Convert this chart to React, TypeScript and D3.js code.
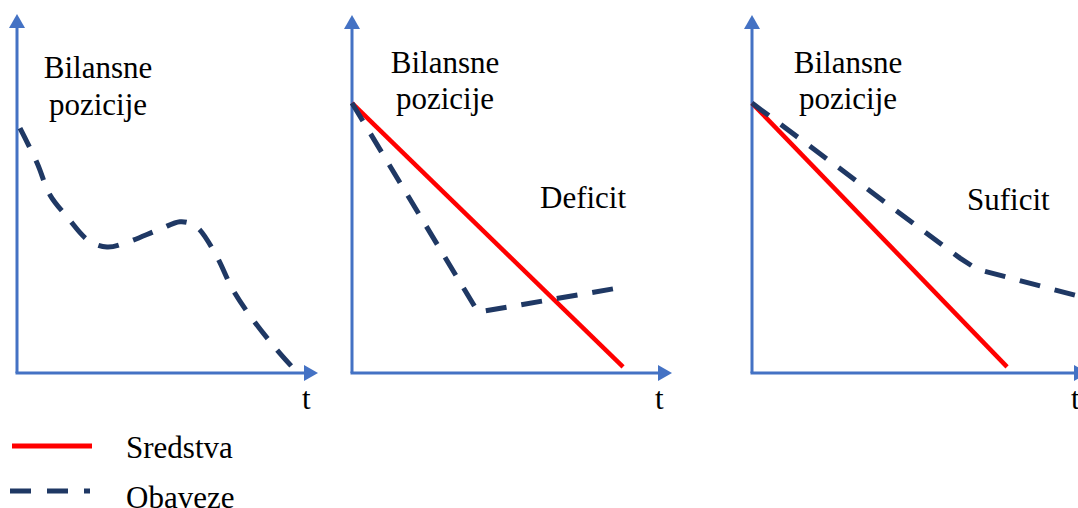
import React from "react";
import * as d3 from "d3";

// ---- data (x: time units 0..100, y: value units 0..100) ----
const panel1ObavezeX = [1, 6.7, 11, 16.7, 23.7, 30, 36, 47.7, 54.3, 58.3, 61, 66.7, 72, 78.7, 86.7, 91.7];
const panel1ObavezeY = [68.2, 58.5, 49.6, 43.5, 37, 35.1, 36.2, 40.1, 42.1, 41.5, 39.8, 32.3, 23.1, 14.8, 6.4, 1.7];

const panel2SredstvaX = [0, 84.7];
const panel2SredstvaY = [75.4, 1.7];
const panel2ObavezeX = [0, 39.4, 81.6];
const panel2ObavezeY = [75.4, 17, 23.5];

const panel3SredstvaX = [0, 79.7];
const panel3SredstvaY = [75.4, 1.7];
const panel3ObavezeX = [0, 65, 70.3, 104];
const panel3ObavezeY = [75.4, 32.1, 29, 21];

const yLabelLines = ["Bilansne", "pozicije"];
const xLabel = "t";
const panelNotes = ["", "Deficit", "Suficit"];
const legendLabels = ["Sredstva", "Obaveze"];

const zip = (xs: number[], ys: number[]) => xs.map((x, i) => [x, ys[i]] as [number, number]);

const AXIS = "#4472c4";
const RED = "#ff0000";
const NAVY = "#1f3864";
const FONT = "Liberation Serif, Tinos, DejaVu Serif, serif";

type Panel = {
  ox: number;
  oy: number;
  top: number;
  xEnd: number;
  xMax: number;
  labelCx: number;
  labelY1: number;
  labelY2: number;
  tX: number;
  note: string;
  noteX: number;
  noteY: number;
  sredstva?: [number, number][];
  obaveze: [number, number][];
  curve: any;
};

const panels: Panel[] = [
  {
    ox: 17, oy: 373, top: 14, xEnd: 318, xMax: 317,
    labelCx: 98, labelY1: 78, labelY2: 115, tX: 302,
    note: panelNotes[0], noteX: 0, noteY: 0,
    obaveze: zip(panel1ObavezeX, panel1ObavezeY),
    curve: d3.curveCatmullRom.alpha(0.5),
  },
  {
    ox: 352, oy: 373, top: 15, xEnd: 672, xMax: 672,
    labelCx: 445, labelY1: 73, labelY2: 109, tX: 655,
    note: panelNotes[1], noteX: 540, noteY: 208,
    sredstva: zip(panel2SredstvaX, panel2SredstvaY),
    obaveze: zip(panel2ObavezeX, panel2ObavezeY),
    curve: d3.curveLinear,
  },
  {
    ox: 752, oy: 373, top: 15, xEnd: 1088, xMax: 1072,
    labelCx: 848, labelY1: 73, labelY2: 109, tX: 1071,
    note: panelNotes[2], noteX: 967, noteY: 210,
    sredstva: zip(panel3SredstvaX, panel3SredstvaY),
    obaveze: zip(panel3ObavezeX, panel3ObavezeY),
    curve: d3.curveLinear,
  },
];

const textStyle: React.CSSProperties = { fontFamily: FONT, fontSize: 31 };

function PanelView({ p }: { p: Panel }) {
  const x = d3.scaleLinear().domain([0, 100]).range([p.ox, p.xMax]);
  const y = d3.scaleLinear().domain([0, 100]).range([p.oy, p.top]);
  const line = d3
    .line<[number, number]>()
    .x((d) => x(d[0]))
    .y((d) => y(d[1]))
    .curve(p.curve);
  const ah = 14;
  const aw = 8;
  return (
    <g>
      <line x1={p.ox} y1={p.oy} x2={p.ox} y2={p.top + ah - 1} stroke={AXIS} strokeWidth={3} />
      <path d={`M${p.ox},${p.top} L${p.ox - aw},${p.top + ah} L${p.ox + aw},${p.top + ah} Z`} fill={AXIS} />
      <line x1={p.ox - 1.5} y1={p.oy} x2={p.xEnd - ah + 1} y2={p.oy} stroke={AXIS} strokeWidth={3} />
      <path d={`M${p.xEnd},${p.oy} L${p.xEnd - ah},${p.oy - aw} L${p.xEnd - ah},${p.oy + aw} Z`} fill={AXIS} />

      {p.sredstva && (
        <path d={line(p.sredstva) || ""} fill="none" stroke={RED} strokeWidth={4.5} />
      )}
      <path
        d={line(p.obaveze) || ""}
        fill="none"
        stroke={NAVY}
        strokeWidth={5}
        strokeDasharray="21,15"
      />

      <text x={p.labelCx} y={p.labelY1} textAnchor="middle" style={textStyle} fill="#000">
        {yLabelLines[0]}
      </text>
      <text x={p.labelCx} y={p.labelY2} textAnchor="middle" style={textStyle} fill="#000">
        {yLabelLines[1]}
      </text>
      <text x={p.tX} y={409} style={textStyle} fill="#000">
        {xLabel}
      </text>
      {p.note && (
        <text x={p.noteX} y={p.noteY} style={textStyle} fill="#000">
          {p.note}
        </text>
      )}
    </g>
  );
}

export default function App() {
  return (
    <div style={{ position: "fixed", left: 0, top: 0 }}>
      <svg width={1078} height={508} style={{ display: "block", background: "#fff" }}>
        <rect width={1078} height={508} fill="#fff" />
        {panels.map((p, i) => (
          <PanelView key={i} p={p} />
        ))}
        <line x1={12} y1={446} x2={92} y2={446} stroke={RED} strokeWidth={5} />
        <text x={126} y={458} style={textStyle} fill="#000">
          {legendLabels[0]}
        </text>
        <line x1={10} y1={491} x2={90} y2={491} stroke={NAVY} strokeWidth={5} strokeDasharray="21,16" />
        <text x={126} y={508} style={textStyle} fill="#000">
          {legendLabels[1]}
        </text>
      </svg>
    </div>
  );
}
